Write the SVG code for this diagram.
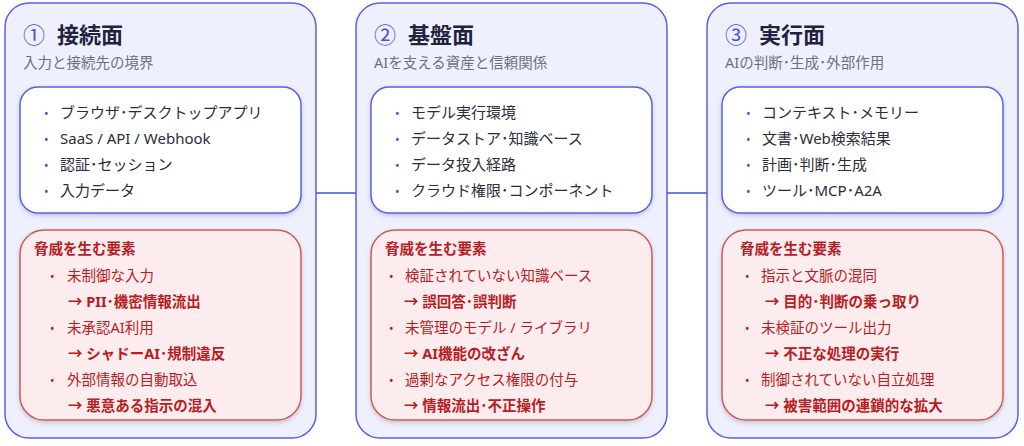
<svg xmlns="http://www.w3.org/2000/svg" width="1024" height="446" viewBox="0 0 1024 446">
<defs>
<filter id="sh" x="-10%" y="-10%" width="120%" height="130%"><feDropShadow dx="0" dy="2" stdDeviation="2" flood-color="#000" flood-opacity="0.18"/></filter>
</defs>
<style>
text{font-family:"Noto Sans","Noto Sans CJK JP",sans-serif}
.panel{fill:#eef0fd;stroke:#5a5fe8;stroke-width:1.5}
.wbox{fill:#fff;stroke:#5a5fe8;stroke-width:1.5;filter:url(#sh)}
.rbox{fill:#fdeced;stroke:#d05a5a;stroke-width:1.5;filter:url(#sh)}
.num{fill:#4a4fe0;font-size:22px}
.ttl{fill:#1e2340;font-size:22px;font-weight:bold}
.sub{fill:#6b7080;font-size:14.5px}
.it{fill:#2a2d3a;font-size:15px}
.bl{fill:#4a4fe0;font-size:12px}
.rh{fill:#b81c24;font-size:14.5px;font-weight:bold}
.ri{fill:#b81c24;font-size:14.5px}
.ra{fill:#b81c24;font-size:14.5px;font-weight:bold}
.rb{fill:#b81c24;font-size:12px}
.con{stroke:#4a4fe0;stroke-width:1.5;fill:none}
</style>
<g id="connectors">
<line class="con" x1="316" y1="193" x2="356" y2="193"/>
<line class="con" x1="667" y1="193" x2="707" y2="193"/>
</g>
<g id="panel1">
<rect class="panel" x="5" y="3" width="311" height="435" rx="24"/>
<text class="num" x="23" y="43">①</text><text class="ttl" x="57" y="43">接続面</text>
<text class="sub" x="23" y="68">入力と接続先の境界</text>
<rect class="wbox" x="20" y="87" width="281" height="126" rx="18"/>
<text class="bl" x="44" y="118">•</text><text class="it" x="60" y="118">ブラウザ･デスクトップアプリ</text>
<text class="bl" x="44" y="144">•</text><text class="it" x="60" y="144">SaaS / API / Webhook</text>
<text class="bl" x="44" y="170">•</text><text class="it" x="60" y="170">認証･セッション</text>
<text class="bl" x="44" y="196">•</text><text class="it" x="60" y="196">入力データ</text>
<rect class="rbox" x="20" y="230" width="281" height="190" rx="24"/>
<text class="rh" x="34" y="254">脅威を生む要素</text>
<text class="rb" x="50" y="281">•</text><text class="ri" x="67" y="281">未制御な入力</text>
<text class="ra" x="68" y="307">→ PII･機密情報流出</text>
<text class="rb" x="50" y="333">•</text><text class="ri" x="67" y="333">未承認AI利用</text>
<text class="ra" x="68" y="359">→ シャドーAI･規制違反</text>
<text class="rb" x="50" y="385">•</text><text class="ri" x="67" y="385">外部情報の自動取込</text>
<text class="ra" x="68" y="411">→ 悪意ある指示の混入</text>
</g>
<g id="panel2">
<rect class="panel" x="356" y="3" width="311" height="435" rx="24"/>
<text class="num" x="374" y="43">②</text><text class="ttl" x="408" y="43">基盤面</text>
<text class="sub" x="374" y="68">AIを支える資産と信頼関係</text>
<rect class="wbox" x="371" y="87" width="281" height="126" rx="18"/>
<text class="bl" x="395" y="118">•</text><text class="it" x="411" y="118">モデル実行環境</text>
<text class="bl" x="395" y="144">•</text><text class="it" x="411" y="144">データストア･知識ベース</text>
<text class="bl" x="395" y="170">•</text><text class="it" x="411" y="170">データ投入経路</text>
<text class="bl" x="395" y="196">•</text><text class="it" x="411" y="196">クラウド権限･コンポーネント</text>
<rect class="rbox" x="371" y="230" width="281" height="190" rx="24"/>
<text class="rh" x="385" y="254">脅威を生む要素</text>
<text class="rb" x="389" y="281">•</text><text class="ri" x="405" y="281">検証されていない知識ベース</text>
<text class="ra" x="404" y="307">→ 誤回答･誤判断</text>
<text class="rb" x="389" y="333">•</text><text class="ri" x="405" y="333">未管理のモデル / ライブラリ</text>
<text class="ra" x="404" y="359">→ AI機能の改ざん</text>
<text class="rb" x="389" y="385">•</text><text class="ri" x="405" y="385">過剰なアクセス権限の付与</text>
<text class="ra" x="404" y="411">→ 情報流出･不正操作</text>
</g>
<g id="panel3">
<rect class="panel" x="707" y="3" width="311" height="435" rx="24"/>
<text class="num" x="725" y="43">③</text><text class="ttl" x="759" y="43">実行面</text>
<text class="sub" x="725" y="68">AIの判断･生成･外部作用</text>
<rect class="wbox" x="722" y="87" width="281" height="126" rx="18"/>
<text class="bl" x="746" y="118">•</text><text class="it" x="762" y="118">コンテキスト･メモリー</text>
<text class="bl" x="746" y="144">•</text><text class="it" x="762" y="144">文書･Web検索結果</text>
<text class="bl" x="746" y="170">•</text><text class="it" x="762" y="170">計画･判断･生成</text>
<text class="bl" x="746" y="196">•</text><text class="it" x="762" y="196">ツール･MCP･A2A</text>
<rect class="rbox" x="722" y="230" width="281" height="190" rx="24"/>
<text class="rh" x="740" y="254">脅威を生む要素</text>
<text class="rb" x="745" y="281">•</text><text class="ri" x="761" y="281">指示と文脈の混同</text>
<text class="ra" x="765" y="307">→ 目的･判断の乗っ取り</text>
<text class="rb" x="745" y="333">•</text><text class="ri" x="761" y="333">未検証のツール出力</text>
<text class="ra" x="765" y="359">→ 不正な処理の実行</text>
<text class="rb" x="745" y="385">•</text><text class="ri" x="761" y="385">制御されていない自立処理</text>
<text class="ra" x="765" y="411">→ 被害範囲の連鎖的な拡大</text>
</g>
</svg>
